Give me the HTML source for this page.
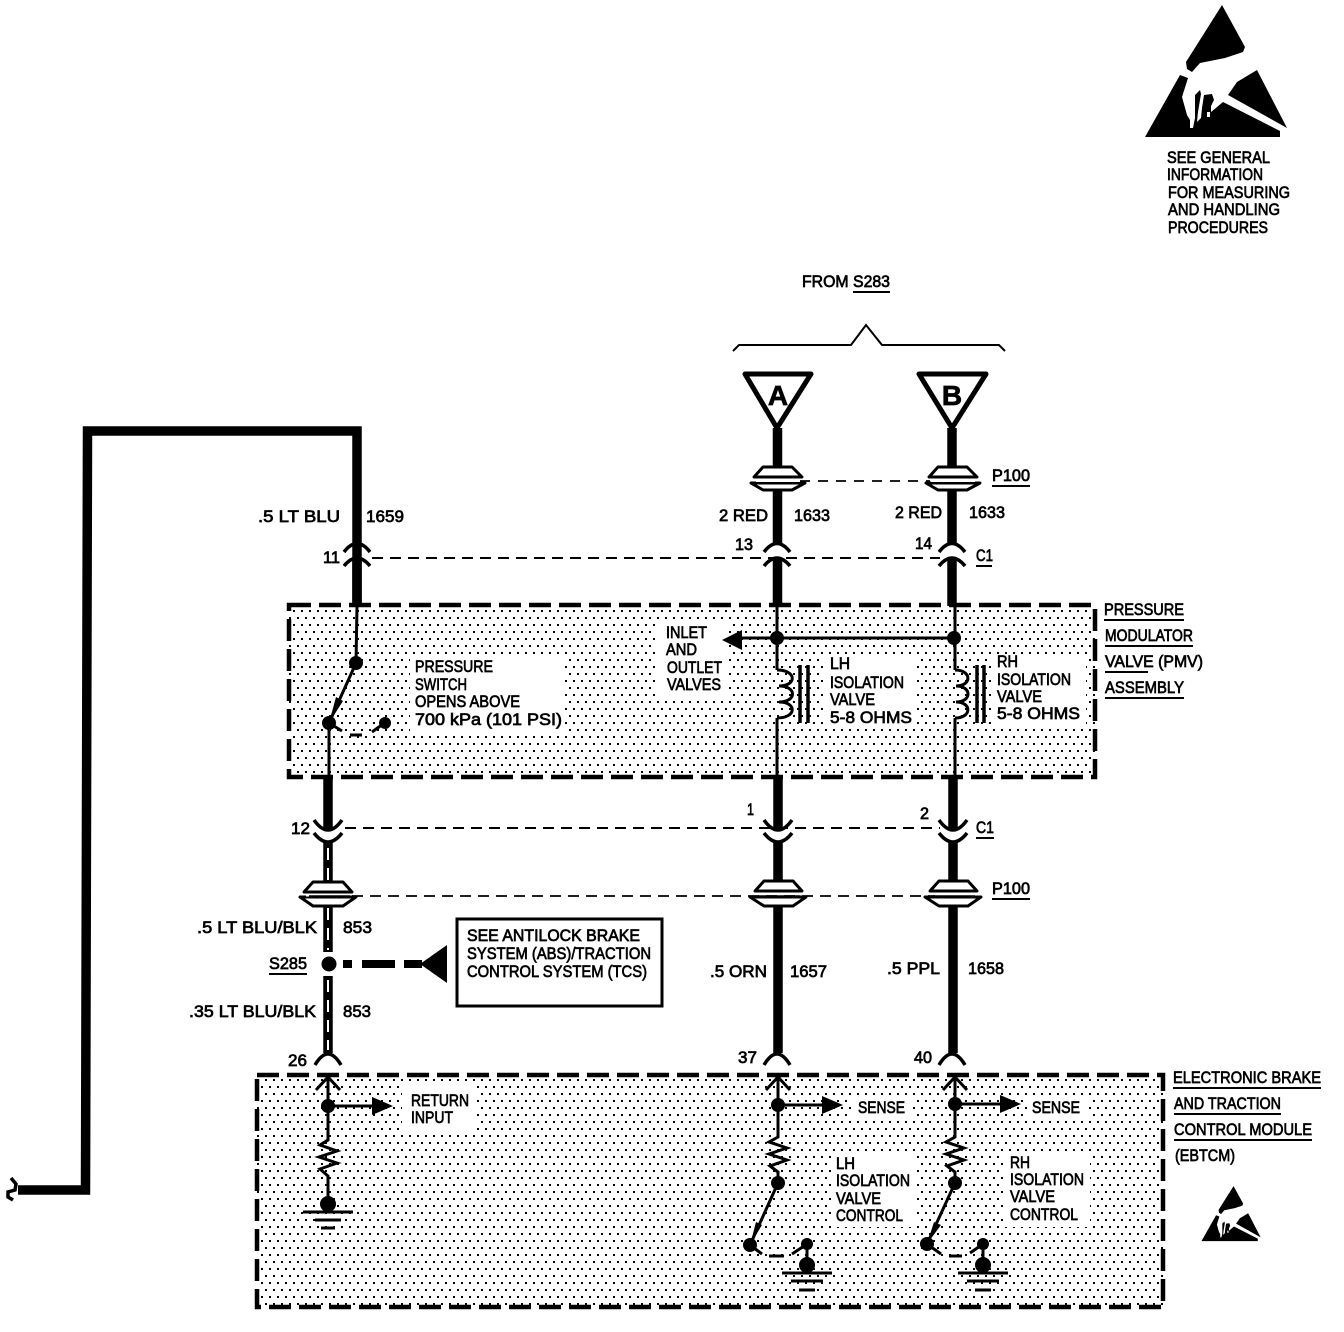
<!DOCTYPE html>
<html><head><meta charset="utf-8"><style>
html,body{margin:0;padding:0;background:#fff}
svg{display:block}
text{font-family:"Liberation Sans",sans-serif;font-size:16.5px;fill:#000;stroke:#000;stroke-width:.7}
</style></head><body>
<svg width="1344" height="1332" viewBox="0 0 1344 1332" xmlns="http://www.w3.org/2000/svg">
<defs>
<pattern id="dots" width="8" height="14" patternUnits="userSpaceOnUse">
<rect x="1" y="1" width="2" height="2" fill="#000"/><rect x="5" y="8" width="2" height="2" fill="#000"/>
</pattern>
<g id="esd"><path d="M1222 5 1245 47 1243 52 1225 58 1200 63 1192 72 1187 69 1186 62Z"/><path d="M1145 137 1180 75 1188 78 1182 97 1187 115 1190 120 1190 128 1193 128 1195 118 1195 95 1200 90 1201 94 1198 112 1197 122 1201 118 1202 108 1204 95 1212 94 1214 100 1211 106 1211 112 1223 102 1280 131 1280 137Z"/><path d="M1257 70 1287 128 1228 95 1237 82Z"/><rect x="1207" y="112" width="3" height="5" fill="#fff"/></g>
</defs>
<rect width="1344" height="1332" fill="#fff"/>
<!-- shaded boxes -->
<rect x="289" y="605" width="806" height="172" fill="url(#dots)"/>
<rect x="257" y="1075" width="906" height="232" fill="url(#dots)"/>
<g fill="#fff">
<rect x="410" y="654" width="155" height="80"/><rect x="657" y="623" width="70" height="78"/><rect x="825" y="655" width="92" height="73"/><rect x="992" y="655" width="94" height="72"/>
<rect x="402" y="1085" width="75" height="45"/><rect x="852" y="1096" width="60" height="24"/><rect x="1027" y="1096" width="60" height="24"/><rect x="831" y="1153" width="85" height="74"/><rect x="1005" y="1153" width="85" height="74"/>
</g>
<g fill="none" stroke="#000" stroke-width="4.5">
<rect x="289" y="605" width="806" height="172" stroke-dasharray="22 8"/>
<rect x="257" y="1075" width="906" height="232" stroke-dasharray="22 8"/>
</g>
<use href="#esd"/>
<use href="#esd" transform="translate(724 1184) scale(.417)"/>
<!-- long wire -->
<path d="M357 605V431H87.5L85.5 1190H18" fill="none" stroke="#000" stroke-width="9.5"/>
<path d="M11 1178 16 1184 15 1190 8 1192 8 1197 13 1200" fill="none" stroke="#000" stroke-width="3.5"/>
<!-- bracket -->
<path d="M733 351 739 345H851L866 325 882 345H999L1005 351" fill="none" stroke="#000" stroke-width="2"/>
<!-- triangles -->
<g fill="#fff" stroke="#000" stroke-width="5" stroke-linejoin="round"><path d="M745 374H811L777 428Z"/><path d="M919 374H986L952 428Z"/></g>
<!-- dashed lines -->
<g fill="none" stroke="#000" stroke-width="2" stroke-dasharray="11 7">
<path d="M372 558H940"/><path d="M345 828H940"/></g>
<!-- thick wires -->
<g fill="none" stroke="#000" stroke-width="9.5">
<path d="M777.5 428V545M777.5 558V606M952 428V545M952 558V606"/>
<path d="M357 558V606"/>
<path d="M778 778V830M953 778V830M778 842V1053M953 842V1053M328 778V830M328 842V952M328 976V1053"/>
</g>
<g fill="none" stroke="#fff" stroke-width="2" stroke-dasharray="12 8">
<path d="M328 848V950M328 980V1050"/></g>
<!-- thin wires -->
<g fill="none" stroke="#000" stroke-width="3">
<path d="M357 606 356 663 329 723V778"/>
<path d="M777 606V670M777 718V778M955 606V670M955 718V778"/>
<path d="M329 723 342 731M350 735H362M372 732 383 724"/>
<path d="M777 638H740M777 638H955"/>
<path d="M328 1075V1140L320 1145 337 1151 319 1157 337 1163 320 1169 328 1176V1204"/>
<path d="M778 1075V1137L769 1142 787 1148 769 1154 787 1160 770 1166 778 1172V1183L750 1245"/>
<path d="M955 1075V1137L946 1142 964 1148 946 1154 964 1160 947 1166 955 1172V1183L927 1244"/>
<path d="M750 1245 762 1254M769 1256H784M792 1254 807 1244V1265"/>
<path d="M927 1244 941 1254M949 1256H962M970 1253 983 1244V1265"/>
<path d="M328 1106H375M778 1105H825M955 1104H1003"/>
<path d="M316 1090 328 1077 340 1090M766 1090 778 1077 790 1090M943 1090 955 1077 967 1090"/>
</g>
<!-- coils -->
<g fill="none" stroke="#000" stroke-width="3">
<path d="M777 670C797 670 797 686 779 686C797 686 797 702 779 702C797 702 797 718 777 718"/>
<path d="M955 670C972 670 972 686 956 686C972 686 972 702 956 702C972 702 972 718 955 718"/>
<path d="M800 665V723M808 665V723M977 665V723M984 665V723" stroke-width="3.5"/>
</g>
<!-- P100 connectors -->
<g fill="#fff" stroke="#000" stroke-width="3" stroke-linejoin="round">
<path d="M763 467H792L802 477H754ZM751 483H805L792 490H763Z"/>
<path d="M938 467H967L977 477H929ZM926 483H980L967 490H938Z"/>
<path d="M313 882H343L352 892H304ZM300 897H356L343 906H313Z"/>
<path d="M764 881H793L802 891H755ZM750 897H806L793 906H764Z"/>
<path d="M939 881H968L977 891H930ZM925 897H981L968 906H939Z"/>
</g>
<g fill="#fff">
<rect x="756" y="478.5" width="44" height="3.5"/><rect x="931" y="478.5" width="44" height="3.5"/>
<rect x="306" y="893.5" width="44" height="3"/><rect x="757" y="892.5" width="43" height="3.5"/><rect x="932" y="892.5" width="43" height="3.5"/>
</g>
<g fill="none" stroke="#000" stroke-width="1.7" stroke-dasharray="10 8"><path d="M800 481H930"/></g>
<path d="M352 896H935" fill="none" stroke="#000" stroke-width="1.8" stroke-dasharray="11 7"/>
<path d="M758 896H800M933 896H975M309 896H350" stroke="#000" stroke-width="1.5"/>
<!-- arcs -->
<g fill="none" stroke="#000" stroke-width="3.5">
<path d="M344 552Q357 535 370 552M344 566Q357 550 370 566"/>
<path d="M764 552Q777 535 790 552M764 566Q777 550 790 566"/>
<path d="M939 552Q952 535 965 552M939 566Q952 550 965 566"/>
<path d="M314 820Q328 840 342 820M314 833Q328 851 342 833"/>
<path d="M764 820Q778 840 792 820M764 833Q778 851 792 833"/>
<path d="M939 820Q953 840 967 820M939 833Q953 851 967 833"/>
<path d="M315 1065Q328 1043 341 1065M764 1065Q777 1043 790 1065M939 1065Q952 1043 965 1065"/>
</g>
<!-- dots, arrows -->
<g>
<circle cx="356" cy="663" r="7"/><circle cx="329" cy="723" r="7"/><circle cx="385" cy="723" r="6"/>
<circle cx="777" cy="638" r="7"/><circle cx="954" cy="638" r="7"/>
<path d="M722 640 742 630V650Z"/>
<circle cx="328" cy="1106" r="7"/><path d="M393 1106 372 1097V1115Z"/><circle cx="328" cy="1204" r="8"/>
<circle cx="778" cy="1105" r="7"/><path d="M843 1105 822 1096V1114Z"/><circle cx="778" cy="1183" r="7"/><circle cx="750" cy="1245" r="7"/><circle cx="807" cy="1244" r="6"/><circle cx="807" cy="1265" r="8"/>
<circle cx="955" cy="1104" r="7"/><path d="M1021 1104 1000 1095V1113Z"/><circle cx="955" cy="1183" r="7"/><circle cx="927" cy="1244" r="7"/><circle cx="983" cy="1244" r="6"/><circle cx="983" cy="1265" r="8"/>
<path d="M329 723 336 697 343 701Z"/>
<path d="M750 1245 756 1222 762 1225Z"/>
<path d="M927 1244 934 1222 941 1225Z"/>
<circle cx="329" cy="964" r="7.5"/>
<rect x="343" y="960" width="9" height="8"/><rect x="362" y="960" width="33" height="8"/><rect x="404" y="960" width="18" height="8"/>
<path d="M420 964 447 945V983Z"/>
</g>
<!-- grounds -->
<g stroke="#000" stroke-width="3" fill="none">
<path d="M303 1212H353M315 1220H341M321 1228H335"/>
<path d="M782 1273H832M791 1281H823M799 1290H815"/>
<path d="M958 1273H1008M967 1281H999M975 1290H991"/>
</g>
<!-- label box -->
<rect x="457" y="919" width="205" height="87" fill="#fff" stroke="#000" stroke-width="3"/>
<!-- underlines -->
<g stroke="#000" stroke-width="2">
<path d="M853 292H890M992 486H1030M976 566H992M976 838H994M992 899H1030M269 974H307"/>
<path d="M1104 620H1184M1105 646H1193M1105 672H1148M1105 698H1184"/>
<path d="M1173 1088H1321M1174 1114H1281M1174 1140H1312"/>
</g>
<!-- text -->
<text x="1167" y="163" textLength="103" lengthAdjust="spacingAndGlyphs">SEE GENERAL</text>
<text x="1167" y="180" textLength="96" lengthAdjust="spacingAndGlyphs">INFORMATION</text>
<text x="1168" y="198" textLength="122" lengthAdjust="spacingAndGlyphs">FOR MEASURING</text>
<text x="1168" y="215" textLength="112" lengthAdjust="spacingAndGlyphs">AND HANDLING</text>
<text x="1168" y="233" textLength="100" lengthAdjust="spacingAndGlyphs">PROCEDURES</text>
<text x="802" y="287" textLength="88" lengthAdjust="spacingAndGlyphs">FROM S283</text>
<text x="778" y="405" text-anchor="middle" style="font-size:28px;font-weight:bold">A</text>
<text x="952" y="405" text-anchor="middle" style="font-size:28px;font-weight:bold">B</text>
<text x="258" y="522" textLength="82" lengthAdjust="spacingAndGlyphs">.5 LT BLU</text>
<text x="366" y="522" textLength="38" lengthAdjust="spacingAndGlyphs">1659</text>
<text x="719" y="521" textLength="49" lengthAdjust="spacingAndGlyphs">2 RED</text>
<text x="794" y="521" textLength="36" lengthAdjust="spacingAndGlyphs">1633</text>
<text x="895" y="518" textLength="47" lengthAdjust="spacingAndGlyphs">2 RED</text>
<text x="969" y="518" textLength="36" lengthAdjust="spacingAndGlyphs">1633</text>
<text x="992" y="481" textLength="38" lengthAdjust="spacingAndGlyphs">P100</text>
<text x="323" y="563" textLength="17" lengthAdjust="spacingAndGlyphs">11</text>
<text x="735" y="550" textLength="18" lengthAdjust="spacingAndGlyphs">13</text>
<text x="915" y="549" textLength="17" lengthAdjust="spacingAndGlyphs">14</text>
<text x="976" y="561" textLength="17" lengthAdjust="spacingAndGlyphs">C1</text>
<text x="1104" y="615" textLength="80" lengthAdjust="spacingAndGlyphs">PRESSURE</text>
<text x="1105" y="641" textLength="88" lengthAdjust="spacingAndGlyphs">MODULATOR</text>
<text x="1105" y="667" textLength="98" lengthAdjust="spacingAndGlyphs">VALVE (PMV)</text>
<text x="1105" y="693" textLength="79" lengthAdjust="spacingAndGlyphs">ASSEMBLY</text>
<text x="415" y="672" textLength="78" lengthAdjust="spacingAndGlyphs">PRESSURE</text>
<text x="415" y="690" textLength="52" lengthAdjust="spacingAndGlyphs">SWITCH</text>
<text x="415" y="707" textLength="105" lengthAdjust="spacingAndGlyphs">OPENS ABOVE</text>
<text x="415" y="725" textLength="147" lengthAdjust="spacingAndGlyphs">700 kPa (101 PSI)</text>
<text x="666" y="638" textLength="41" lengthAdjust="spacingAndGlyphs">INLET</text>
<text x="666" y="655" textLength="31" lengthAdjust="spacingAndGlyphs">AND</text>
<text x="667" y="673" textLength="55" lengthAdjust="spacingAndGlyphs">OUTLET</text>
<text x="667" y="690" textLength="54" lengthAdjust="spacingAndGlyphs">VALVES</text>
<text x="830" y="669" textLength="20" lengthAdjust="spacingAndGlyphs">LH</text>
<text x="830" y="688" textLength="74" lengthAdjust="spacingAndGlyphs">ISOLATION</text>
<text x="830" y="705" textLength="45" lengthAdjust="spacingAndGlyphs">VALVE</text>
<text x="830" y="723" textLength="82" lengthAdjust="spacingAndGlyphs">5-8 OHMS</text>
<text x="997" y="667" textLength="21" lengthAdjust="spacingAndGlyphs">RH</text>
<text x="997" y="685" textLength="74" lengthAdjust="spacingAndGlyphs">ISOLATION</text>
<text x="997" y="702" textLength="45" lengthAdjust="spacingAndGlyphs">VALVE</text>
<text x="997" y="719" textLength="83" lengthAdjust="spacingAndGlyphs">5-8 OHMS</text>
<text x="291" y="834" textLength="19" lengthAdjust="spacingAndGlyphs">12</text>
<text x="747" y="815" textLength="7" lengthAdjust="spacingAndGlyphs">1</text>
<text x="920" y="819" textLength="9" lengthAdjust="spacingAndGlyphs">2</text>
<text x="976" y="833" textLength="18" lengthAdjust="spacingAndGlyphs">C1</text>
<text x="992" y="894" textLength="38" lengthAdjust="spacingAndGlyphs">P100</text>
<text x="197" y="933" textLength="120" lengthAdjust="spacingAndGlyphs">.5 LT BLU/BLK</text>
<text x="343" y="933" textLength="29" lengthAdjust="spacingAndGlyphs">853</text>
<text x="269" y="969" textLength="38" lengthAdjust="spacingAndGlyphs">S285</text>
<text x="189" y="1017" textLength="127" lengthAdjust="spacingAndGlyphs">.35 LT BLU/BLK</text>
<text x="343" y="1017" textLength="28" lengthAdjust="spacingAndGlyphs">853</text>
<text x="467" y="941" textLength="173" lengthAdjust="spacingAndGlyphs">SEE ANTILOCK BRAKE</text>
<text x="467" y="959" textLength="184" lengthAdjust="spacingAndGlyphs">SYSTEM (ABS)/TRACTION</text>
<text x="467" y="977" textLength="180" lengthAdjust="spacingAndGlyphs">CONTROL SYSTEM (TCS)</text>
<text x="710" y="977" textLength="57" lengthAdjust="spacingAndGlyphs">.5 ORN</text>
<text x="790" y="977" textLength="37" lengthAdjust="spacingAndGlyphs">1657</text>
<text x="887" y="974" textLength="53" lengthAdjust="spacingAndGlyphs">.5 PPL</text>
<text x="968" y="974" textLength="36" lengthAdjust="spacingAndGlyphs">1658</text>
<text x="288" y="1066" textLength="19" lengthAdjust="spacingAndGlyphs">26</text>
<text x="738" y="1063" textLength="19" lengthAdjust="spacingAndGlyphs">37</text>
<text x="914" y="1063" textLength="18" lengthAdjust="spacingAndGlyphs">40</text>
<text x="411" y="1106" textLength="58" lengthAdjust="spacingAndGlyphs">RETURN</text>
<text x="411" y="1123" textLength="42" lengthAdjust="spacingAndGlyphs">INPUT</text>
<text x="858" y="1113" textLength="47" lengthAdjust="spacingAndGlyphs">SENSE</text>
<text x="1032" y="1113" textLength="48" lengthAdjust="spacingAndGlyphs">SENSE</text>
<text x="836" y="1169" textLength="19" lengthAdjust="spacingAndGlyphs">LH</text>
<text x="836" y="1186" textLength="74" lengthAdjust="spacingAndGlyphs">ISOLATION</text>
<text x="836" y="1204" textLength="45" lengthAdjust="spacingAndGlyphs">VALVE</text>
<text x="836" y="1221" textLength="67" lengthAdjust="spacingAndGlyphs">CONTROL</text>
<text x="1010" y="1168" textLength="20" lengthAdjust="spacingAndGlyphs">RH</text>
<text x="1010" y="1185" textLength="74" lengthAdjust="spacingAndGlyphs">ISOLATION</text>
<text x="1010" y="1202" textLength="45" lengthAdjust="spacingAndGlyphs">VALVE</text>
<text x="1010" y="1220" textLength="68" lengthAdjust="spacingAndGlyphs">CONTROL</text>
<text x="1173" y="1083" textLength="148" lengthAdjust="spacingAndGlyphs">ELECTRONIC BRAKE</text>
<text x="1174" y="1109" textLength="107" lengthAdjust="spacingAndGlyphs">AND TRACTION</text>
<text x="1174" y="1135" textLength="138" lengthAdjust="spacingAndGlyphs">CONTROL MODULE</text>
<text x="1175" y="1161" textLength="60" lengthAdjust="spacingAndGlyphs">(EBTCM)</text>
</svg>
</body></html>
